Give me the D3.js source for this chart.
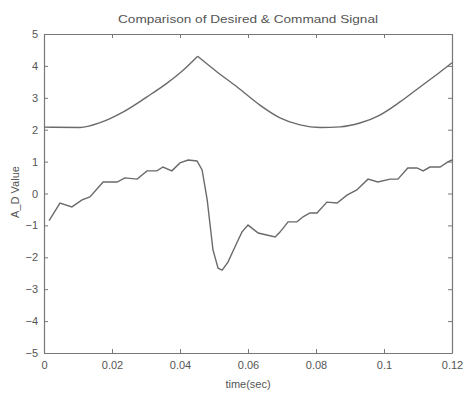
<!DOCTYPE html>
<html>
<head>
<meta charset="utf-8">
<script src="https://cdn.jsdelivr.net/npm/d3@7"></script>
<style>
  body { margin: 0; background: #fff; }
  svg { display: block; font-family: 'Liberation Sans', Arial, sans-serif; }
  .axis text { fill: #555; font-size: 11px; }
  .axis line, .axis path { stroke: #777; }
  .series { fill: none; stroke: #6a6a6a; stroke-width: 1.4; }
</style>
</head>
<body>
<svg id="chart" width="466" height="394"></svg>
<script>
// desired signal (upper trace)
const desiredTime = [0, 0.0106, 0.0165, 0.0232, 0.0303, 0.0362, 0.041, 0.0452, 0.0509, 0.0568, 0.0635,
    0.0694, 0.0753, 0.0812, 0.0871, 0.0929, 0.0988, 0.1047, 0.1106, 0.1165, 0.12]
const desiredValue = [2.08, 2.07, 2.22, 2.55, 3.03, 3.46, 3.87, 4.3, 3.81, 3.34, 2.77,
    2.37, 2.15, 2.07, 2.09, 2.21, 2.46, 2.87, 3.34, 3.81, 4.1]

// command signal (lower trace)
const commandTime = [0.0015, 0.0047, 0.0082, 0.0112, 0.0135, 0.0174, 0.0215, 0.0238, 0.0274, 0.0303,
    0.0332, 0.035, 0.0376, 0.04, 0.0424, 0.045, 0.0465, 0.048, 0.0497, 0.0512,
    0.0524, 0.0541, 0.0567, 0.0582, 0.06, 0.063, 0.0655, 0.068, 0.0694, 0.0718,
    0.0744, 0.0762, 0.0782, 0.0803, 0.0832, 0.0862, 0.0891, 0.092, 0.0953, 0.0982,
    0.1018, 0.1041, 0.107, 0.1097, 0.1115, 0.1135, 0.1165, 0.1188, 0.12]
const commandValue = [-0.85, -0.30, -0.42, -0.20, -0.11, 0.36, 0.36, 0.49, 0.45, 0.71,
    0.71, 0.83, 0.71, 0.96, 1.05, 1.02, 0.74, -0.20, -1.77, -2.34,
    -2.40, -2.15, -1.55, -1.21, -0.99, -1.24, -1.30, -1.36, -1.21, -0.89,
    -0.89, -0.73, -0.61, -0.61, -0.27, -0.30, -0.05, 0.11, 0.45, 0.36,
    0.45, 0.45, 0.80, 0.80, 0.71, 0.83, 0.83, 0.99, 1.05]

const xTicks = [0, 0.02, 0.04, 0.06, 0.08, 0.1, 0.12]
const yTicks = [-5, -4, -3, -2, -1, 0, 1, 2, 3, 4, 5]

const chartTitle = 'Comparison of Desired & Command Signal'
const xLabel = 'time(sec)'
const yLabel = 'A_D Value'

const svg = d3.select('#chart')
const DIM = { width: 466, height: 394, margin_top: 34, margin_bottom: 41, margin_left: 44, margin_right: 14 }
DIM.inner_width = DIM.width - DIM.margin_left - DIM.margin_right
DIM.inner_height = DIM.height - DIM.margin_top - DIM.margin_bottom

const x = d3.scaleLinear().domain([0, 0.12]).range([0, DIM.inner_width])
const y = d3.scaleLinear().domain([-5, 5]).range([DIM.inner_height, 0])

const g = svg.append('g')
    .attr('transform', `translate(${DIM.margin_left}, ${DIM.margin_top})`)

// MATLAB style box, ticks pointing inward on all four sides
g.append('g').attr('class', 'axis')
    .attr('transform', `translate(0, ${DIM.inner_height})`)
    .call(d3.axisBottom(x).tickValues(xTicks).tickFormat(d3.format('~g')).tickSizeInner(-4).tickSizeOuter(0).tickPadding(8))
g.append('g').attr('class', 'axis')
    .call(d3.axisTop(x).tickValues(xTicks).tickFormat('').tickSizeInner(-4).tickSizeOuter(0))
g.append('g').attr('class', 'axis')
    .call(d3.axisLeft(y).tickValues(yTicks).tickFormat(d3.format('d')).tickSizeInner(-4).tickSizeOuter(0).tickPadding(6))
g.append('g').attr('class', 'axis')
    .attr('transform', `translate(${DIM.inner_width}, 0)`)
    .call(d3.axisRight(y).tickValues(yTicks).tickFormat('').tickSizeInner(-4).tickSizeOuter(0))

g.selectAll('.axis path').attr('stroke-width', 1.2)

const line = d3.line().x(d => x(d[0])).y(d => y(d[1]))

// desired trace has a sharp cusp at its peak, so smooth each side separately
const desired = d3.zip(desiredTime, desiredValue)
const peak = d3.maxIndex(desiredValue)
g.selectAll('.desired')
    .data([desired.slice(0, peak + 1), desired.slice(peak)])
    .join('path')
    .attr('class', 'series desired')
    .attr('d', line.curve(d3.curveMonotoneX))

g.append('path').attr('class', 'series')
    .datum(d3.zip(commandTime, commandValue))
    .attr('d', line.curve(d3.curveLinear))

svg.append('text')
    .attr('x', DIM.margin_left + DIM.inner_width / 2)
    .attr('y', 23)
    .attr('text-anchor', 'middle')
    .attr('fill', '#555')
    .attr('font-size', 11)
    .attr('textLength', 260)
    .attr('lengthAdjust', 'spacingAndGlyphs')
    .text(chartTitle)

svg.append('text')
    .attr('x', DIM.margin_left + DIM.inner_width / 2)
    .attr('y', 388)
    .attr('text-anchor', 'middle')
    .attr('fill', '#555')
    .attr('font-size', 11)
    .text(xLabel)

svg.append('text')
    .attr('transform', `translate(19, 192) rotate(-90)`)
    .attr('text-anchor', 'middle')
    .attr('fill', '#555')
    .attr('font-size', 11)
    .text(yLabel)
</script>
</body>
</html>
